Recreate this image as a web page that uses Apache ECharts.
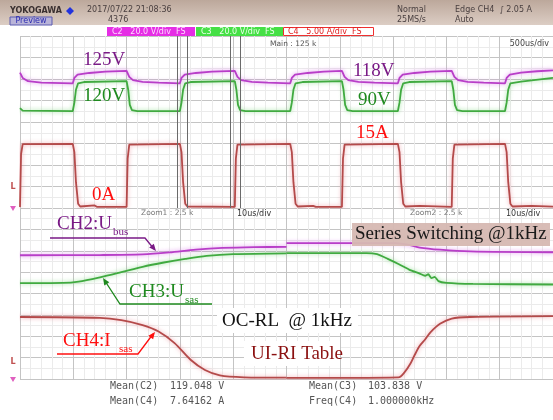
<!DOCTYPE html>
<html>
<head>
<meta charset="utf-8">
<script src="https://cdn.jsdelivr.net/npm/echarts@6/dist/echarts.min.js"></script>
<style>
html, body { margin: 0; padding: 0; background: #fff; }
#main { width: 553px; height: 420px; }
</style>
</head>
<body>
<div id="main"></div>
<script>
// time in divisions (10 across), amplitude in divisions (8 per window)
var ch2Main = [[0,6.3],[0.05,6.05],[0.15,5.9],[0.4,5.83],[0.99,5.8],
  [1.02,6.05],[1.08,6.2],[1.3,6.28],[1.6,6.34],[2.0,6.38],
  [2.05,6.1],[2.12,5.95],[2.3,5.87],[2.6,5.83],[3.0,5.8],
  [3.03,6.05],[3.09,6.2],[3.3,6.28],[3.6,6.34],[4.03,6.38],
  [4.08,6.1],[4.15,5.95],[4.35,5.87],[4.65,5.83],[5.07,5.8],
  [5.1,6.05],[5.16,6.2],[5.4,6.28],[5.7,6.34],[6.04,6.38],
  [6.09,6.1],[6.16,5.95],[6.35,5.87],[6.65,5.83],[7.09,5.8],
  [7.12,6.05],[7.18,6.2],[7.4,6.28],[7.7,6.34],[8.1,6.38],
  [8.15,6.1],[8.22,5.95],[8.4,5.87],[8.7,5.83],[9.1,5.8],
  [9.13,6.05],[9.19,6.2],[9.4,6.3],[9.7,6.36],[10,6.4]];
var ch3Main = [[0,4.65],[0.05,4.53],[0.99,4.51],[1.02,4.9],[1.05,5.5],[1.09,5.8],[1.2,5.86],[2.0,5.9],
  [2.03,5.5],[2.06,4.8],[2.1,4.55],[2.2,4.51],[3.0,4.51],[3.03,4.9],[3.06,5.5],[3.1,5.8],[3.2,5.86],[4.03,5.9],
  [4.06,5.5],[4.09,4.8],[4.13,4.55],[4.23,4.51],[5.07,4.51],[5.1,4.9],[5.13,5.5],[5.17,5.8],[5.3,5.86],[6.04,5.9],
  [6.07,5.5],[6.1,4.8],[6.14,4.55],[6.24,4.51],[7.09,4.51],[7.12,4.9],[7.15,5.5],[7.19,5.8],[7.3,5.86],[8.1,5.9],
  [8.13,5.5],[8.16,4.8],[8.2,4.55],[8.3,4.51],[9.1,4.51],[9.13,4.9],[9.16,5.5],[9.2,5.8],[9.4,5.88],[10,6.05]];
var ch4Main = [[0,0.05],[0.02,2.5],[0.05,2.97],[0.99,2.98],[1.02,2.6],[1.05,1.2],[1.09,0.2],[1.13,0.07],[1.4,0.12],[1.45,0.05],[2.0,0.05],
  [2.02,2.3],[2.05,2.95],[3.0,2.98],[3.03,2.6],[3.06,1.2],[3.1,0.2],[3.14,0.07],[4.03,0.05],
  [4.05,2.3],[4.08,2.95],[5.07,2.98],[5.1,2.6],[5.13,1.2],[5.17,0.2],[5.21,0.07],[5.5,0.1],[5.55,0.05],[6.04,0.05],
  [6.06,2.3],[6.09,2.95],[7.09,2.98],[7.12,2.6],[7.15,1.2],[7.19,0.2],[7.23,0.07],[7.5,0.1],[8.1,0.05],
  [8.12,2.3],[8.15,2.95],[9.1,2.98],[9.13,2.6],[9.16,1.2],[9.2,0.2],[9.24,0.07],[9.6,0.1],[10,0.06]];

var ch2Zoom1 = [[0,5.79],[1.5,5.8],[2.3,5.83],[2.8,5.92],[3.3,6.05],[3.8,6.13],[4.4,6.17],[5,6.18]];
var ch2Zoom2 = [[5,6.36],[7.05,6.36],[7.3,6.28],[7.5,6.15],[7.88,6.05],[8.45,5.97],[10,5.93]];
var ch3Zoom1 = [[0,4.49],[0.8,4.5],[1.1,4.56],[1.5,4.76],[1.9,5.0],[2.3,5.25],[2.7,5.45],[3.1,5.62],[3.5,5.76],[4.0,5.84],[5,5.88]];
var ch3Zoom2 = [[5,5.89],[6.5,5.89],[6.7,5.84],[6.9,5.62],[7.1,5.38],[7.3,5.12],[7.5,4.93],[7.6,4.83],[7.66,4.9],[7.72,4.72],[7.78,4.78],[7.85,4.58],[8.0,4.5],[8.5,4.45],[10,4.42]];
var ch4Zoom1 = [[0,2.9],[1.5,2.86],[1.9,2.75],[2.3,2.52],[2.6,2.22],[2.9,1.68],[3.2,0.9],[3.47,0.42],[3.75,0.17],[4.2,0.08],[5,0.06]];
var ch4Zoom2 = [[5,0.05],[7.1,0.08],[7.22,0.33],[7.32,0.7],[7.4,1.1],[7.5,1.55],[7.6,1.85],[7.7,2.18],[7.88,2.58],[8.1,2.83],[8.45,2.9],[10,2.94]];

// zoom window edges in the main window
var zoomMarks = [2.95, 3.13, 3.94, 4.13];

var MAG = '#b83ec8', GRN = '#40aa40', RED = '#b44a4a';
var serif = 'Liberation Serif';
var small = 'DejaVu Sans';

function axisX(idx) {
  return {
    gridIndex: idx, type: 'value', min: 0, max: 10, interval: 1,
    axisLine: { show: false }, axisTick: { show: false }, axisLabel: { show: false },
    splitLine: { show: true, lineStyle: { color: '#c4c4c4', width: 1 } },
    minorTick: { show: false, splitNumber: 5 },
    minorSplitLine: { show: true, lineStyle: { color: '#ebebeb', width: 1 } }
  };
}
function axisY(idx) {
  return {
    gridIndex: idx, type: 'value', min: 0, max: 8, interval: 1,
    axisLine: { show: false }, axisTick: { show: false }, axisLabel: { show: false },
    splitLine: { show: true, lineStyle: { color: '#c4c4c4', width: 1 } },
    minorTick: { show: false, splitNumber: 2 },
    minorSplitLine: { show: true, lineStyle: { color: '#ebebeb', width: 1 } }
  };
}
function trace(data, color, glow, idx, smooth) {
  return {
    type: 'line', data: data, xAxisIndex: idx, yAxisIndex: idx,
    showSymbol: false, smooth: smooth || false, animation: false,
    lineStyle: { color: color, width: 1.8, shadowColor: glow, shadowBlur: 4 }
  };
}

var series = [
  trace(ch2Main, MAG, 'rgba(215,110,235,0.8)', 0),
  trace(ch3Main, GRN, 'rgba(110,210,110,0.7)', 0),
  trace(ch4Main, RED, 'rgba(235,140,150,0.8)', 0),
  trace(ch2Zoom1, MAG, 'rgba(215,110,235,0.8)', 1, 0.3),
  trace(ch2Zoom2, MAG, 'rgba(215,110,235,0.8)', 1, 0.3),
  trace(ch3Zoom1, GRN, 'rgba(110,210,110,0.7)', 1, 0.3),
  trace(ch3Zoom2, GRN, 'rgba(110,210,110,0.7)', 1, 0.2),
  trace(ch4Zoom1, RED, 'rgba(235,140,150,0.8)', 1, 0.3),
  trace(ch4Zoom2, RED, 'rgba(235,140,150,0.8)', 1, 0.3)
];
series[0].markLine = {
  silent: true, symbol: 'none', label: { show: false },
  lineStyle: { color: '#6a6a6a', width: 1, type: 'solid' },
  data: zoomMarks.map(function (v) { return { xAxis: v }; })
};

function txt(x, y, text, font, fill, align) {
  return { type: 'text', x: x, y: y, z: 50,
    style: { text: text, font: font, fill: fill, textAlign: align || 'left', textVerticalAlign: 'middle' } };
}
function box(x, y, w, h, fill, stroke) {
  return { type: 'rect', z: 40, shape: { x: x, y: y, width: w, height: h },
    style: { fill: fill, stroke: stroke || null, lineWidth: 1 } };
}
function arrow(points, head, color) {
  return [
    { type: 'polyline', z: 50, shape: { points: points }, style: { stroke: color, lineWidth: 1.3, fill: null } },
    { type: 'polygon', z: 50, shape: { points: head }, style: { fill: color } }
  ];
}

var big = '19px ' + serif;
var sub = '11px ' + serif;
var graphics = [
  // header
  { type: 'rect', z: 1, shape: { x: 0, y: 0, width: 553, height: 25 },
    style: { fill: { type: 'linear', x: 0, y: 0, x2: 0, y2: 1,
      colorStops: [{ offset: 0, color: '#bca89b' }, { offset: 1, color: '#dccdc4' }] } } },
  txt(10, 11, 'YOKOGAWA', 'bold 8px ' + small, '#3a3030'),
  { type: 'polygon', z: 50, shape: { points: [[70, 7], [74, 11], [70, 15], [66, 11]] }, style: { fill: '#2233dd' } },
  box(10, 17, 42, 8, '#b9b4d8', '#5a5ab0'),
  txt(31, 21, 'Preview', '8px ' + small, '#2a2ab0', 'center'),
  txt(87, 10, '2017/07/22 21:08:36', '8px ' + small, '#4a4040'),
  txt(108, 20, '4376', '8px ' + small, '#4a4040'),
  txt(397, 10, 'Normal', '8px ' + small, '#4a4040'),
  txt(397, 20, '25MS/s', '8px ' + small, '#4a4040'),
  txt(455, 10, 'Edge CH4  \u222B 2.05 A', '8px ' + small, '#4a4040'),
  txt(455, 20, 'Auto', '8px ' + small, '#4a4040'),
  // channel settings row
  box(107, 27, 88, 9, '#e52ee5'),
  txt(112, 31.5, 'C2   20.0 V/div  FS', '8px ' + small, '#ffd8ff'),
  box(196, 27, 87, 9, '#45e045'),
  txt(201, 31.5, 'C3   20.0 V/div  FS', '8px ' + small, '#e8ffe8'),
  box(283.5, 27.5, 90, 8, '#ffffff', '#ee3030'),
  txt(288, 31.5, 'C4   5.00 A/div  FS', '8px ' + small, '#e02020'),
  // window labels
  txt(270, 44, 'Main : 125 k', '7.5px ' + small, '#555'),
  txt(549, 44, '500us/div', '8px ' + small, '#444', 'right'),
  txt(141, 213, 'Zoom1 : 2.5 k', '7.5px ' + small, '#777'),
  txt(237, 214, '10us/div', '8px ' + small, '#333'),
  txt(410, 213, 'Zoom2 : 2.5 k', '7.5px ' + small, '#777'),
  txt(506, 214, '10us/div', '8px ' + small, '#333'),
  // left markers
  txt(13, 187, 'L', 'bold 8px ' + small, '#c05050', 'center'),
  { type: 'polygon', z: 50, shape: { points: [[10, 206], [16, 206], [13, 211]] }, style: { fill: '#e060c0' } },
  txt(13, 362, 'L', 'bold 8px ' + small, '#c05050', 'center'),
  { type: 'polygon', z: 50, shape: { points: [[10, 377], [16, 377], [13, 382]] }, style: { fill: '#e060c0' } },
  // top window annotations
  txt(83, 60, '125V', big, '#7a1a86'),
  txt(83, 96, '120V', big, '#1f8a1f'),
  txt(92, 195, '0A', big, '#ff1010'),
  txt(353, 71, '118V', big, '#7a1a86'),
  txt(358, 100, '90V', big, '#1f8a1f'),
  txt(356, 133, '15A', big, '#ff1010'),
  // zoom window annotations
  txt(57, 224, 'CH2:U', big, '#7a1a86'),
  txt(113, 232, 'bus', sub, '#7a1a86'),
  txt(129, 292, 'CH3:U', big, '#1f8a1f'),
  txt(185, 300, 'sas', sub, '#1f8a1f'),
  txt(63, 341, 'CH4:I', big, '#ff1010'),
  txt(119, 349, 'sas', sub, '#ff1010'),
  box(352, 223, 198, 23, 'rgba(214,184,178,0.95)'),
  txt(355, 234, 'Series Switching @1kHz', big, '#1a1a1a'),
  box(217, 308, 141, 25, '#ffffff'),
  txt(222, 321, 'OC-RL  @ 1kHz', big, '#111'),
  box(244, 341, 96, 25, '#ffffff'),
  txt(251, 354, 'UI-RI Table', big, '#8b1010'),
  // measurements
  txt(110, 386, 'Mean(C2)', '10px DejaVu Sans Mono', '#555'),
  txt(170, 386, '119.048 V', '10px DejaVu Sans Mono', '#555'),
  txt(110, 401, 'Mean(C4)', '10px DejaVu Sans Mono', '#555'),
  txt(170, 401, '7.64162 A', '10px DejaVu Sans Mono', '#555'),
  txt(309, 386, 'Mean(C3)', '10px DejaVu Sans Mono', '#555'),
  txt(368, 386, '103.838 V', '10px DejaVu Sans Mono', '#555'),
  txt(309, 401, 'Freq(C4)', '10px DejaVu Sans Mono', '#555'),
  txt(368, 401, '1.000000kHz', '10px DejaVu Sans Mono', '#555')
];
graphics = graphics
  .concat(arrow([[50, 238], [145, 238], [154, 249]], [[156, 251], [149.2, 247.5], [153.8, 243.7]], '#7a1a86'))
  .concat(arrow([[212, 304], [120, 304], [105, 281]], [[103, 278], [109.3, 282.3], [104.3, 285.5]], '#1f8a1f'))
  .concat(arrow([[57, 354], [138, 354], [153, 334]], [[155, 332], [153.1, 339.3], [148.3, 335.7]], '#ff1010'));

var myChart = echarts.init(document.getElementById('main'));
myChart.setOption({
  animation: false,
  backgroundColor: '#ffffff',
  grid: [
    { left: 20, top: 36, width: 533, height: 172 },
    { left: 20, top: 208, width: 533, height: 171 }
  ],
  xAxis: [axisX(0), axisX(1)],
  yAxis: [axisY(0), axisY(1)],
  series: series,
  graphic: graphics
});
</script>
</body>
</html>
